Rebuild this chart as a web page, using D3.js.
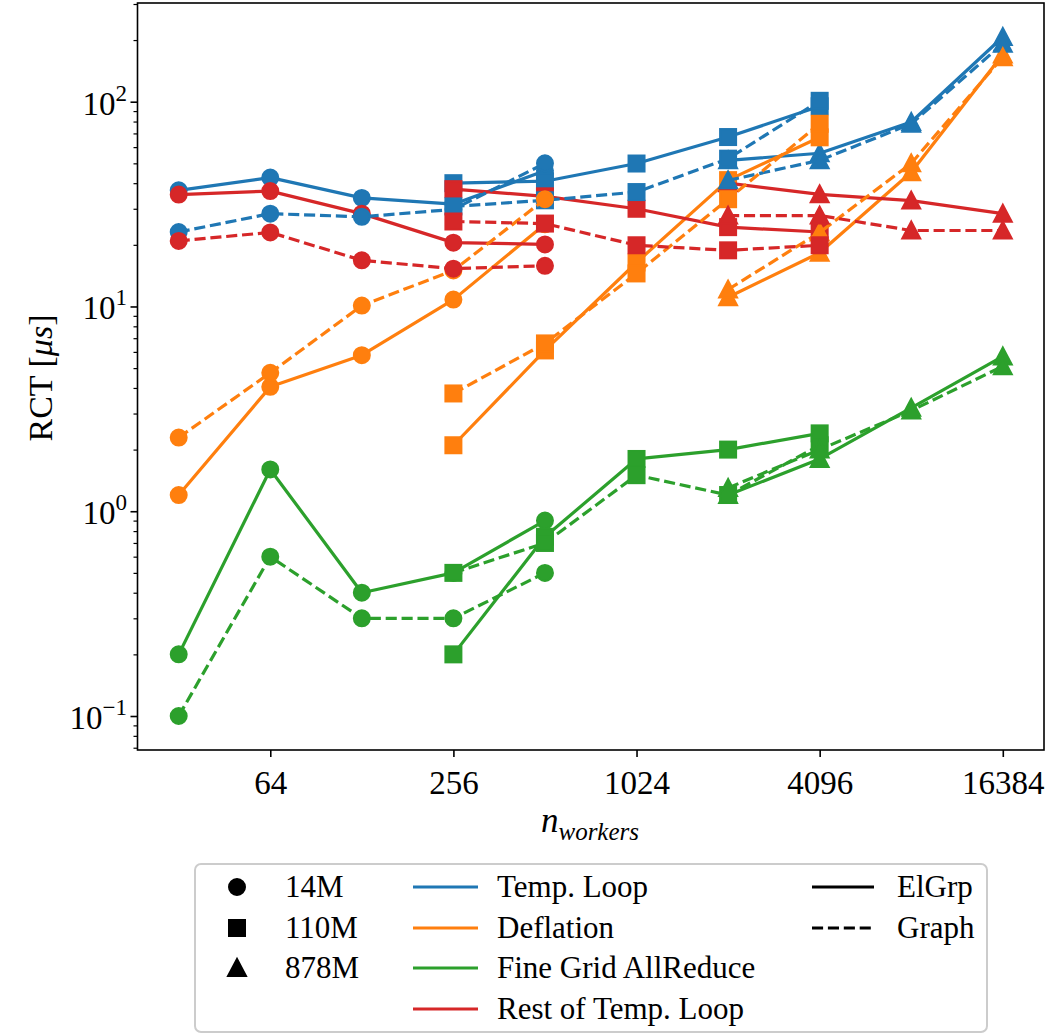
<!DOCTYPE html>
<html><head><meta charset="utf-8">
<script src="https://cdn.jsdelivr.net/npm/d3@7"></script>
<style>
body{margin:0;background:#fff}
text{font-family:"Liberation Serif","Times New Roman",serif;fill:#000}
</style>
</head><body>
<svg id="chart" width="1050" height="1035"></svg>
<script>
// ---------------- data ----------------
const workers14M  = [32, 64, 128, 256, 512];
const workers110M = [256, 512, 1024, 2048, 4096];
const workers878M = [2048, 4096, 8192, 16384];

const meshes = ["14M", "110M", "878M"];
const components = ["Temp. Loop", "Deflation", "Fine Grid AllReduce", "Rest of Temp. Loop"];
const methods = ["ElGrp", "Graph"];

// Temp. Loop
const tempLoopElGrp14M  = [36.9, 42.6, 33.9, 31.6, 46];
const tempLoopGraph14M  = [23.1, 28.4, 27.4, 29.8, 50];
const tempLoopElGrp110M = [40, 40.9, 49.9, 67.2, 95];
const tempLoopGraph110M = [30.8, 33, 36.2, 52.7, 101];
const tempLoopElGrp878M = [51.7, 56, 79.6, 207];
const tempLoopGraph878M = [41.3, 51.7, 78, 192];
// Deflation
const deflationElGrp14M  = [1.2, 4.05, 5.78, 10.8, 25.2];
const deflationGraph14M  = [2.29, 4.74, 10.1, 15, 33.4];
const deflationElGrp110M = [2.1, 6.1, 16.4, 41.4, 67];
const deflationGraph110M = [3.76, 6.6, 14.5, 33.4, 78];
const deflationElGrp878M = [11.1, 18.3, 45.2, 170];
const deflationGraph878M = [12.1, 23, 50, 165];
// Fine Grid AllReduce
const allreduceElGrp14M  = [0.2, 1.6, 0.4, 0.5, 0.9];
const allreduceGraph14M  = [0.1, 0.6, 0.3, 0.3, 0.5];
const allreduceElGrp110M = [0.2, 0.75, 1.8, 2.0, 2.4];
const allreduceGraph110M = [0.5, 0.7, 1.5, 1.2, 2.1];
const allreduceElGrp878M = [1.2, 1.8, 3.2, 5.7];
const allreduceGraph878M = [1.3, 2.0, 3.1, 5.1];
// Rest of Temp. Loop
const restElGrp14M  = [35.2, 36.6, 28.4, 20.5, 20.1];
const restGraph14M  = [20.9, 23, 16.8, 15.3, 15.8];
const restElGrp110M = [37.4, 34.5, 30, 24.4, 23.1];
const restGraph110M = [26, 25.4, 19.9, 18.8, 19.9];
const restElGrp878M = [40, 35.3, 32.9, 28.4];
const restGraph878M = [27.8, 27.8, 23.5, 23.5];

const xTicks = [64, 256, 1024, 4096, 16384];
const yMajorTicks = [0.1, 1, 10, 100];
const yTickExponents = ["\u22121", "0", "1", "2"];

// ---------------- build table ----------------
const colors = {"Temp. Loop":"#1f77b4","Deflation":"#ff7f0e","Fine Grid AllReduce":"#2ca02c","Rest of Temp. Loop":"#d62728"};
const workersByMesh = {"14M":workers14M,"110M":workers110M,"878M":workers878M};
const valueTable = {
  "Temp. Loop": {ElGrp:[tempLoopElGrp14M,tempLoopElGrp110M,tempLoopElGrp878M], Graph:[tempLoopGraph14M,tempLoopGraph110M,tempLoopGraph878M]},
  "Deflation": {ElGrp:[deflationElGrp14M,deflationElGrp110M,deflationElGrp878M], Graph:[deflationGraph14M,deflationGraph110M,deflationGraph878M]},
  "Fine Grid AllReduce": {ElGrp:[allreduceElGrp14M,allreduceElGrp110M,allreduceElGrp878M], Graph:[allreduceGraph14M,allreduceGraph110M,allreduceGraph878M]},
  "Rest of Temp. Loop": {ElGrp:[restElGrp14M,restElGrp110M,restElGrp878M], Graph:[restGraph14M,restGraph110M,restGraph878M]}
};
const series = [];
methods.forEach(m => components.forEach(c => meshes.forEach((mesh, i) => {
  const w = workersByMesh[mesh];
  series.push({method:m, component:c, mesh, points: w.map((x, j) => ({x, v: valueTable[c][m][i][j]}))});
})));

// ---------------- layout ----------------
const svg = d3.select("#chart");
const L = 137.5, R = 1044, T = 3, B = 750;
const x = d3.scaleLog().base(2).domain([Math.pow(2,4.55), Math.pow(2,14.45)]).range([L, R]);
const y = d3.scaleLog().domain([Math.pow(10,-1.166), Math.pow(10,2.482)]).range([B, T]);

const MS = 16;
function marker(g, mesh, cx, cy, color) {
  if (mesh === "14M") {
    g.append("circle").attr("cx",cx).attr("cy",cy).attr("r",MS/2)
      .attr("fill",color).attr("stroke",color).attr("stroke-width",2);
  } else if (mesh === "110M") {
    g.append("rect").attr("x",cx-MS/2).attr("y",cy-MS/2).attr("width",MS).attr("height",MS)
      .attr("fill",color).attr("stroke",color).attr("stroke-width",2);
  } else {
    const h = MS/2;
    g.append("path").attr("d",`M${cx},${cy-h-1}L${cx-h-1},${cy+h}L${cx+h+1},${cy+h}Z`)
      .attr("fill",color).attr("stroke",color).attr("stroke-width",2).attr("stroke-linejoin","miter");
  }
}

const dash = "11.1,4.8";
const line = d3.line().x(d => x(d.x)).y(d => y(d.v));
const plot = svg.append("g");
series.forEach(s => {
  const col = colors[s.component];
  plot.append("path").datum(s.points).attr("d", line)
    .attr("fill","none").attr("stroke",col).attr("stroke-width",3.2)
    .attr("stroke-linejoin","round")
    .attr("stroke-dasharray", s.method === "Graph" ? dash : null);
  s.points.forEach(p => marker(plot, s.mesh, x(p.x), y(p.v), col));
});

// ---------------- axes ----------------
const ax = svg.append("g");
const xAxis = d3.axisBottom(x).tickValues(xTicks).tickSize(7).tickPadding(8).tickFormat(d3.format("d"));
const gx = ax.append("g").attr("transform",`translate(0,${B})`).call(xAxis);
gx.select(".domain").remove();
gx.selectAll(".tick line").attr("stroke","#000").attr("stroke-width",1.6);
gx.selectAll(".tick text").attr("font-size",33).attr("font-family","Liberation Serif").attr("dy","0.88em");

const yMinor = [];
for (let e = -2; e <= 2; e++) for (let k = 2; k <= 9; k++) {
  const v = k * Math.pow(10, e);
  if (v > y.domain()[0] && v < y.domain()[1]) yMinor.push(v);
}
const gyMinor = ax.append("g").attr("transform",`translate(${L},0)`)
  .call(d3.axisLeft(y).tickValues(yMinor).tickSize(4).tickFormat(""));
gyMinor.select(".domain").remove();
gyMinor.selectAll(".tick line").attr("stroke","#000").attr("stroke-width",1.2);
const gy = ax.append("g").attr("transform",`translate(${L},0)`)
  .call(d3.axisLeft(y).tickValues(yMajorTicks).tickSize(7).tickFormat(""));
gy.select(".domain").remove();
gy.selectAll(".tick line").attr("stroke","#000").attr("stroke-width",1.6);
yMajorTicks.forEach((v, i) => {
  const t = ax.append("text").attr("x", 127).attr("y", y(v) + 13).attr("text-anchor","end")
    .attr("font-size",33);
  t.append("tspan").text("10");
  t.append("tspan").attr("dy",-14).attr("font-size",23).text(yTickExponents[i]);
});

ax.append("rect").attr("x",L).attr("y",T).attr("width",R-L).attr("height",B-T)
  .attr("fill","none").attr("stroke","#000").attr("stroke-width",1.6);

// axis labels
const xl = ax.append("text").attr("x", 590).attr("y", 832).attr("text-anchor","middle").attr("font-size",35);
xl.append("tspan").attr("font-style","italic").text("n");
xl.append("tspan").attr("font-style","italic").attr("font-size",25).attr("dy",8).text("workers");

const yl = ax.append("text").attr("transform","translate(52,378) rotate(-90)").attr("text-anchor","middle").attr("font-size",34);
yl.append("tspan").text("RCT [");
yl.append("tspan").attr("font-style","italic").text("\u03bcs");
yl.append("tspan").text("]");

// ---------------- legend ----------------
const lg = svg.append("g");
lg.append("rect").attr("x",195).attr("y",864).attr("width",792).attr("height",168).attr("rx",6)
  .attr("fill","#fff").attr("fill-opacity",0.8).attr("stroke","#cccccc").attr("stroke-width",2);
const rowY = [887, 928, 968, 1009];
meshes.forEach((m, i) => {
  marker(lg, m, 237, rowY[i], "#000");
  lg.append("text").attr("x",285).attr("y",rowY[i]+10).attr("font-size",31).text(m);
});
components.forEach((c, i) => {
  lg.append("line").attr("x1",413).attr("x2",478).attr("y1",rowY[i]).attr("y2",rowY[i])
    .attr("stroke",colors[c]).attr("stroke-width",3.2);
  lg.append("text").attr("x",497).attr("y",rowY[i]+10).attr("font-size",31).text(c);
});
methods.forEach((m, i) => {
  lg.append("line").attr("x1",812).attr("x2",874).attr("y1",rowY[i]).attr("y2",rowY[i])
    .attr("stroke","#000").attr("stroke-width",3.2).attr("stroke-dasharray", m === "Graph" ? dash : null);
  lg.append("text").attr("x",897).attr("y",rowY[i]+10).attr("font-size",31).text(m);
});
</script>
</body></html>
